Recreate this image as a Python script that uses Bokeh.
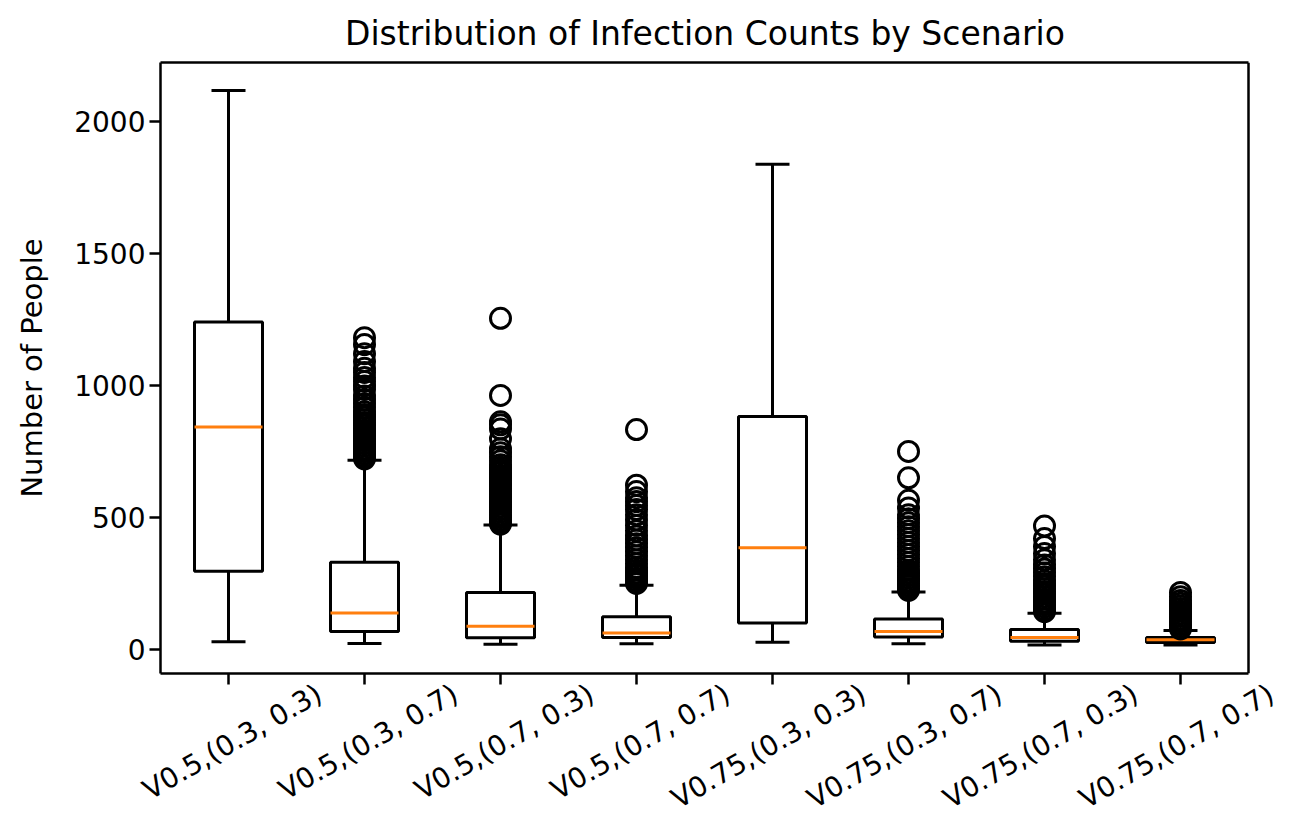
import math
from bokeh.plotting import figure
from bokeh.models import Range1d, FixedTicker, LinearAxis, Span
from bokeh.embed import file_html
from bokeh.resources import INLINE

# ---- data ----
scenarios = ["V0.5,(0.3, 0.3)", "V0.5,(0.3, 0.7)", "V0.5,(0.7, 0.3)", "V0.5,(0.7, 0.7)",
             "V0.75,(0.3, 0.3)", "V0.75,(0.3, 0.7)", "V0.75,(0.7, 0.3)", "V0.75,(0.7, 0.7)"]
whisker_low = [29, 23, 20, 22, 27, 22, 17, 17]
q1 = [296, 68, 44, 45, 100, 47, 31, 26]
median = [843, 138, 88, 62, 385, 68, 45, 37]
q3 = [1240, 330, 216, 124, 882, 115, 76, 45]
whisker_high = [2117, 717, 471, 243, 1838, 218, 137, 72]

outliers = [
    [],
    [1181, 1155, 1120, 1091, 1065, 1049, 1030, 1015, 998, 985, 960, 945, 930, 915, 900,
     890, 880, 870, 860, 850, 840, 830, 820, 810, 800, 790, 780, 770, 760, 750, 740, 730, 722],
    [1254, 962, 862, 851, 835, 798, 760, 745, 730, 715, 700, 690, 680, 670, 660, 650, 640,
     630, 620, 610, 600, 590, 580, 570, 560, 550, 540, 530, 520, 510, 500, 490, 480, 475],
    [833, 622, 598, 575, 560, 545, 530, 510, 490, 470, 450, 430, 415, 400, 385, 370, 355,
     340, 325, 310, 300, 290, 280, 270, 260, 250],
    [],
    [750, 650, 565, 536, 510, 495, 480, 465, 450, 435, 420, 405, 390, 375, 360, 345, 330,
     315, 300, 290, 280, 270, 260, 250, 240, 230, 224],
    [468, 420, 390, 363, 340, 320, 305, 290, 275, 260, 250, 240, 230, 220, 210, 200, 190,
     180, 170, 160, 150, 143],
    [216, 200, 185, 175, 165, 155, 145, 135, 125, 115, 105, 95, 85, 78],
]
y_ticks = [0, 500, 1000, 1500, 2000]

FONT = "DejaVu Sans"
LW = 3
BORDER_W = 2.5

positions = list(range(1, len(scenarios) + 1))
box_half = 0.25
cap_half = 0.125

W, H = 1305, 836
BL, BT, BB = 160, 62, 163
BR_VISIBLE = 57          # right margin of the visible box
BR = 5                   # the Bokeh frame runs further right so the last label fits
x_lo, x_hi = 0.5, 8.5
px_per_unit = (W - BL - BR_VISIBLE) / (x_hi - x_lo)
x_end = x_hi + (BR_VISIBLE - BR) / px_per_unit

p = figure(width=W, height=H, output_backend="svg", toolbar_location=None,
           x_range=Range1d(x_lo, x_end), y_range=Range1d(-91, 2223),
           title="Distribution of Infection Counts by Scenario",
           min_border_left=BL, min_border_right=BR, min_border_top=BT, min_border_bottom=BB)

p.background_fill_color = "white"
p.border_fill_color = "white"
p.outline_line_color = None
p.xgrid.visible = False
p.ygrid.visible = False

# title centred over the visible box (its text is about 719 px wide at 33 px)
p.title.text_font = FONT
p.title.text_font_size = "33px"
p.title.text_font_style = "normal"
p.title.align = "left"
p.title.offset = (W - BL - BR_VISIBLE) / 2 - 719 / 2
p.title.text_color = "black"
p.title.standoff = 20

# whiskers
p.segment(x0=positions, y0=whisker_low, x1=positions, y1=q1, line_color="black", line_width=LW)
p.segment(x0=positions, y0=q3, x1=positions, y1=whisker_high, line_color="black", line_width=LW)
# caps
p.segment(x0=[x - cap_half for x in positions], y0=whisker_low,
          x1=[x + cap_half for x in positions], y1=whisker_low, line_color="black", line_width=LW)
p.segment(x0=[x - cap_half for x in positions], y0=whisker_high,
          x1=[x + cap_half for x in positions], y1=whisker_high, line_color="black", line_width=LW)
# boxes
p.quad(left=[x - box_half for x in positions], right=[x + box_half for x in positions],
       bottom=q1, top=q3, fill_color="white", fill_alpha=0, line_color="black", line_width=LW)
# medians
p.segment(x0=[x - box_half for x in positions], y0=median,
          x1=[x + box_half for x in positions], y1=median, line_color="#ff7f0e", line_width=LW)
# outliers
ox, oy = [], []
for x, vals in zip(positions, outliers):
    for v in vals:
        ox.append(x)
        oy.append(v)
p.scatter(ox, oy, marker="circle", size=20, fill_color=None, line_color="black", line_width=LW)

# axes
p.xaxis.ticker = FixedTicker(ticks=positions)
p.xaxis.major_label_overrides = {x: "" for x in positions}
p.xaxis.bounds = (x_lo, x_hi)
p.yaxis.ticker = FixedTicker(ticks=y_ticks)
p.yaxis.axis_label = "Number of People"

for ax in (p.xaxis[0], p.yaxis[0]):
    ax.major_label_text_font = FONT
    ax.major_label_text_font_size = "28px"
    ax.major_label_text_color = "black"
    ax.axis_label_text_font = FONT
    ax.axis_label_text_font_size = "29px"
    ax.axis_label_text_font_style = "normal"
    ax.axis_label_text_color = "black"
    ax.axis_line_color = "black"
    ax.axis_line_width = BORDER_W
    ax.major_tick_line_color = "black"
    ax.major_tick_line_width = BORDER_W
    ax.major_tick_out = 11
    ax.major_tick_in = 0
    ax.minor_tick_line_color = None
p.xaxis.major_label_text_font_size = "0px"
p.xaxis.major_label_standoff = 0
p.yaxis.major_label_standoff = 4
p.yaxis.axis_label_standoff = 22

# top and right edges of the plot box
top_edge = LinearAxis(bounds=(x_lo, x_hi), ticker=FixedTicker(ticks=[]),
                      axis_line_color="black", axis_line_width=BORDER_W,
                      major_tick_line_color=None, minor_tick_line_color=None,
                      major_label_text_font_size="0px", major_label_standoff=0,
                      major_tick_out=0, major_tick_in=0)
p.add_layout(top_edge, "above")
p.add_layout(Span(location=x_hi, dimension="height", line_color="black", line_width=BORDER_W))

# Category labels rotated 30 degrees and centred under each tick (matplotlib style).
# Bokeh anchors a rotated label at its right end, so a companion axis on a shifted
# range carries the labels, moved right by half of a label's horizontal extent.
shift = 91 / px_per_unit
p.extra_x_ranges = {"labels": Range1d(x_lo - shift, x_end - shift)}
label_axis = LinearAxis(x_range_name="labels", ticker=FixedTicker(ticks=positions),
                        major_label_overrides={x: s for x, s in zip(positions, scenarios)},
                        major_label_orientation=math.pi / 6,
                        major_label_text_font=FONT, major_label_text_font_size="28px",
                        major_label_text_color="black", major_label_standoff=7,
                        axis_line_color=None, major_tick_line_color=None,
                        minor_tick_line_color=None, major_tick_out=0, major_tick_in=0)
p.add_layout(label_axis, "below")

open("out.html", "w").write(file_html(p, INLINE))
